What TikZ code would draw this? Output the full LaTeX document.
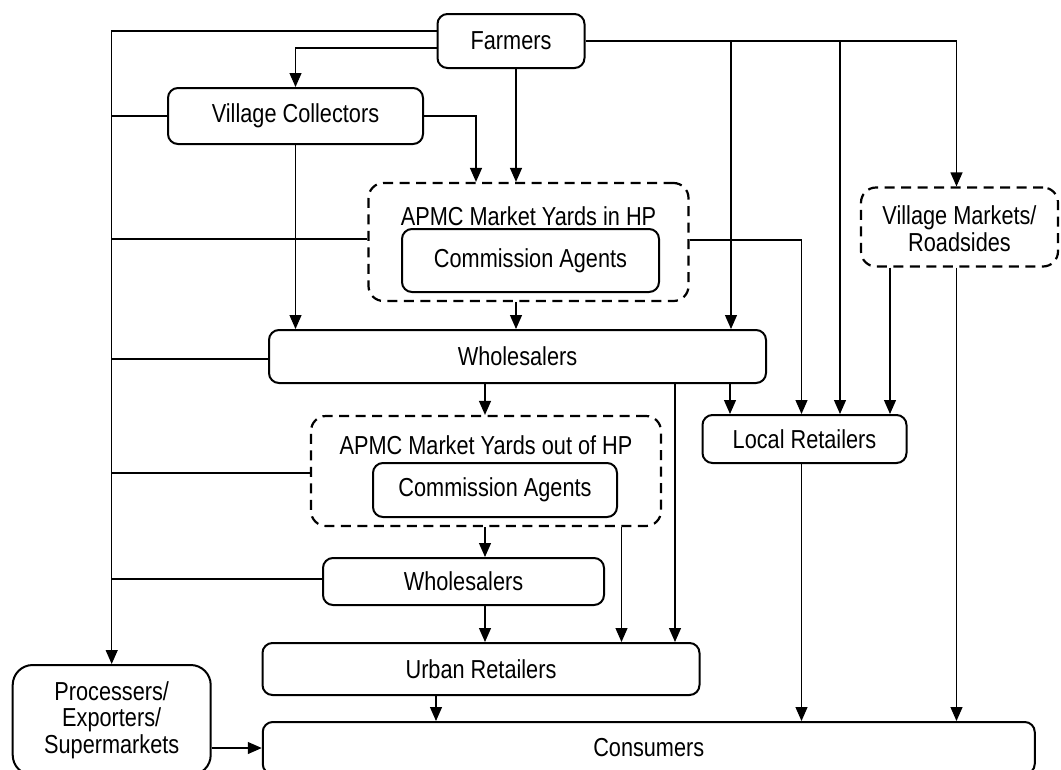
\documentclass[tikz,border=0pt]{standalone}
\usepackage{fontspec}
\setmainfont{Liberation Sans}[FakeStretch=0.835]
\usetikzlibrary{arrows.meta}

\tikzset{
  box/.style={draw, line width=2pt, rounded corners=10pt, inner sep=0pt,
    align=center, fill=white},
  dbox/.style={draw, line width=2.2pt, dash pattern=on 10pt off 6.5pt,
    rounded corners=15pt, inner sep=0pt},
  title/.style={inner sep=0pt, align=center},
  conn/.style={line width=1.2pt},
  arr/.style={conn, -{Triangle[length=14pt,width=12pt]}},
}

\begin{document}
\begin{tikzpicture}[x=1pt, y=-1pt,
    every node/.append style={font=\fontsize{26}{26.5}\selectfont}]
  \useasboundingbox (0,0) rectangle (1061,769);
  \fill[white] (0,0) rectangle (1061,769);
  \clip (0,0) rectangle (1061,769);

  % producers and first-level traders
  \node[box, minimum width=147pt, minimum height=54pt] (farm) at (511,41) {Farmers};
  \node[box, minimum width=255pt, minimum height=56pt] (vc) at (295.5,116) {Village Collectors};

  % regulated market yards inside the state
  \node[dbox, minimum width=320pt, minimum height=118pt] (apmcA) at (528.5,242) {};
  \node[title] (apmcAt) at (528.5,216) {APMC Market Yards in HP};
  \node[box, minimum width=257pt, minimum height=63pt] (caA) at (530.5,260.5) {Commission Agents};

  % village markets
  \node[dbox, minimum width=197pt, minimum height=79pt] (vm) at (959.5,227) {};
  \node[title] (vmt) at (959.5,228.5) {Village Markets/\\Roadsides};

  \node[box, minimum width=497pt, minimum height=53pt] (whA) at (517.5,356.5) {Wholesalers};

  % regulated market yards outside the state
  \node[dbox, minimum width=350pt, minimum height=110pt] (apmcB) at (486,471) {};
  \node[title] (apmcBt) at (486,445) {APMC Market Yards out of HP};
  \node[box, minimum width=244pt, minimum height=54pt] (caB) at (495,490) {Commission Agents};

  \node[box, minimum width=204pt, minimum height=48pt] (lr) at (804.5,439) {Local Retailers};
  \node[box, minimum width=281pt, minimum height=47pt] (whB) at (463.5,581.5) {Wholesalers};
  \node[box, minimum width=437pt, minimum height=52pt] (ur) at (481,669) {Urban Retailers};
  \node[box, minimum width=772pt, minimum height=52pt] (cons) at (648.75,748) {Consumers};
  \node[box, rounded corners=20pt, minimum width=198pt, minimum height=110pt] (proc) at (111.7,720)
    {Processers/\\Exporters/\\Supermarkets};

  % left trunk collecting flows to processers
  \draw[arr] ([yshift=10pt]farm.west) -| (proc.north);
  \draw[conn] (vc.west) -- (vc.west -| proc.north);
  \draw[conn] ([yshift=3pt]apmcA.west) -- ([yshift=3pt]apmcA.west -| proc.north);
  \draw[conn] ([yshift=-2.5pt]whA.west) -- ([yshift=-2.5pt]whA.west -| proc.north);
  \draw[conn] ([yshift=-2pt]apmcB.west) -- ([yshift=-2pt]apmcB.west -| proc.north);
  \draw[conn] ([yshift=2.5pt]whB.west) -- ([yshift=2.5pt]whB.west -| proc.north);
  \draw[arr] (proc.east |- cons.west) -- (cons.west);

  % flows out of farmers
  \draw[arr] ([yshift=-7pt]farm.west) -| (vc.north);
  \draw[arr] ([xshift=5pt]farm.south) -- ([xshift=5pt]farm.south |- apmcA.north);
  \draw[arr] (farm.east) -| ([xshift=-3pt]vm.north);
  \coordinate (b1) at (731,41);
  \coordinate (b2) at (840,41);
  \draw[arr] (b1) -- (b1 |- whA.north);
  \draw[arr] (b2) -- (b2 |- lr.north);

  % village collectors
  \draw[arr] (vc.east) -| ([xshift=-52.5pt]apmcA.north);
  \draw[arr] (vc.south) -- (vc.south |- whA.north);

  % market yards in HP
  \draw[arr] ([xshift=-12.5pt]apmcA.south) -- ([xshift=-12.5pt]apmcA.south |- whA.north);
  \draw[arr] ([yshift=2pt]apmcA.east) -| ([xshift=-3pt]lr.north);

  % wholesalers
  \draw[arr] ([xshift=-32.5pt]whA.south) -- ([xshift=-32.5pt]whA.south |- apmcB.north);
  \draw[arr] ([xshift=212.5pt]whA.south) -- ([xshift=212.5pt]whA.south |- lr.north);
  \draw[arr] ([xshift=157.5pt]whA.south) -- ([xshift=157.5pt]whA.south |- ur.north);

  % market yards out of HP
  \draw[arr] ([xshift=-1pt]apmcB.south) -- ([xshift=-1pt]apmcB.south |- whB.north);
  \draw[arr] ([xshift=135.5pt]apmcB.south) -- ([xshift=135.5pt]apmcB.south |- ur.north);
  \draw[arr] ([xshift=21.5pt]whB.south) -- ([xshift=21.5pt]whB.south |- ur.north);

  % village markets
  \draw[arr] ([xshift=-69.5pt]vm.south) -- ([xshift=-69.5pt]vm.south |- lr.north);
  \draw[arr] ([xshift=-3pt]vm.south) -- ([xshift=-3pt]vm.south |- cons.north);

  % retailers to consumers
  \draw[arr] ([xshift=-3pt]lr.south) -- ([xshift=-3pt]lr.south |- cons.north);
  \draw[arr] ([xshift=-45pt]ur.south) -- ([xshift=-45pt]ur.south |- cons.north);
\end{tikzpicture}
\end{document}
